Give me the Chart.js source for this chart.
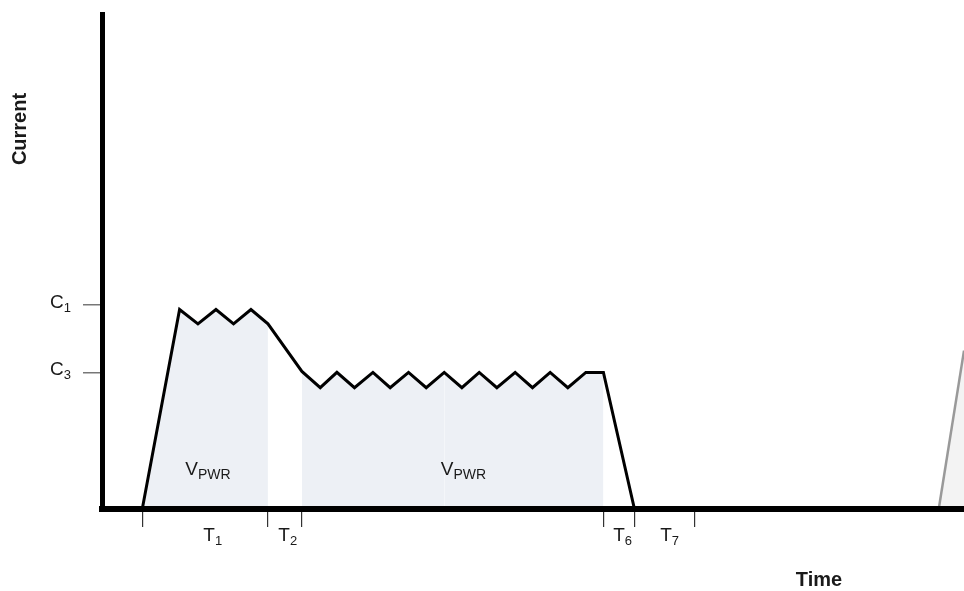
<!DOCTYPE html>
<html>
<head>
<meta charset="utf-8">
<title>Current vs Time</title>
<script src="https://cdn.jsdelivr.net/npm/chart.js@4.4.1/dist/chart.umd.min.js"></script>
<style>
  html, body { margin: 0; padding: 0; background: #fff; }
  #wrap { width: 964px; height: 591px; }
</style>
</head>
<body>
<div id="wrap"><canvas id="chart" width="964" height="591"></canvas></div>
<script>
// Time and current in arbitrary units (axis 0..100 both ways)
const waveTime = [4.67, 9.0, 11.13, 13.22, 15.26, 17.28, 19.25, 23.19,
  25.32, 27.25, 29.29, 31.43, 33.43, 35.56, 37.61, 39.70, 41.75, 43.76,
  45.81, 47.93, 49.94, 51.99, 54.04, 56.13, 58.17, 61.77];
const waveCurrent = [0, 40.3, 37.4, 40.3, 37.4, 40.3, 37.4, 27.8,
  24.5, 27.6, 24.5, 27.6, 24.5, 27.6, 24.5, 27.6, 24.5, 27.6,
  24.5, 27.6, 24.5, 27.6, 24.5, 27.6, 27.6, 0];

// shaded V_PWR phases (time ranges)
const shadeStart = [4.67, 23.19, 39.70];
const shadeEnd   = [19.25, 39.70, 58.17];

// start of the next pulse at the right edge
const nextTime    = [97.07, 100];
const nextCurrent = [0, 32.0];

// level ticks on the current axis
const levelValues = [41.2, 27.6];
const levelLabels = ['C_1', 'C_3'];

// phase markers on the time axis
const markerTime  = [4.67, 19.25, 23.19, 58.17, 61.77, 68.72];
const phaseLabels = ['T_1', 'T_2', 'T_6', 'T_7'];
const phaseTime   = [11.75, 20.45, 59.3, 64.75];

// V_PWR labels inside the shaded areas
const supplyLabels  = ['V_PWR', 'V_PWR'];
const supplyTime    = [9.66, 39.3];
const supplyCurrent = [6.8, 6.8];

const FONT = '"Liberation Sans", Arial, sans-serif';

function pts(xs, ys) {
  return xs.map((x, i) => ({ x: x, y: ys[i] }));
}

const wave = pts(waveTime, waveCurrent);

const shadeSets = shadeStart.map((s, i) => ({
  data: wave.filter(p => p.x >= s && p.x <= shadeEnd[i]),
  fill: 'origin',
  backgroundColor: '#edf0f5',
  borderWidth: 0,
  pointRadius: 0,
  order: 2,
}));

// text with a subscript part, "C_1" -> C + small 1
function drawSub(ctx, label, x, y, size, subSize) {
  const parts = label.split('_');
  ctx.font = size + 'px ' + FONT;
  ctx.fillText(parts[0], x, y);
  const w = ctx.measureText(parts[0]).width;
  ctx.font = subSize + 'px ' + FONT;
  ctx.fillText(parts[1], x + w, y + 4);
}

const labelPlugin = {
  id: 'labels',
  afterDraw(chart) {
    const ctx = chart.ctx;
    const xs = chart.scales.x, ys = chart.scales.y;
    ctx.save();
    ctx.fillStyle = '#1a1a1a';
    ctx.textBaseline = 'alphabetic';
    ctx.textAlign = 'left';

    levelLabels.forEach((l, i) => {
      drawSub(ctx, l, 50, ys.getPixelForValue(levelValues[i]) + 3, 19, 13);
    });
    phaseLabels.forEach((l, i) => {
      drawSub(ctx, l, xs.getPixelForValue(phaseTime[i]), 541, 19, 13);
    });
    supplyLabels.forEach((l, i) => {
      drawSub(ctx, l, xs.getPixelForValue(supplyTime[i]),
        ys.getPixelForValue(supplyCurrent[i]), 19, 14);
    });

    ctx.font = 'bold 20px ' + FONT;
    ctx.textAlign = 'center';
    ctx.fillText('Time', 819, 586);
    ctx.translate(26, 129);
    ctx.rotate(-Math.PI / 2);
    ctx.fillText('Current', 0, 0);
    ctx.restore();
  }
};

new Chart(document.getElementById('chart'), {
  type: 'line',
  data: {
    datasets: [
      {
        data: wave,
        borderColor: '#000',
        borderWidth: 3,
        borderJoinStyle: 'miter',
        pointRadius: 0,
        fill: false,
        tension: 0,
        order: 0,
      },
      {
        data: pts(nextTime, nextCurrent),
        borderColor: '#999',
        borderWidth: 2.5,
        backgroundColor: '#f3f3f3',
        fill: 'origin',
        pointRadius: 0,
        order: 1,
      },
      ...shadeSets,
    ],
  },
  options: {
    responsive: false,
    animation: false,
    layout: { padding: { top: 14, right: 0, left: 0, bottom: 0 } },
    plugins: { legend: { display: false }, tooltip: { enabled: false } },
    scales: {
      x: {
        type: 'linear',
        min: 0, max: 100,
        afterFit(s) { s.height = 82; },
        afterBuildTicks(s) { s.ticks = markerTime.map(v => ({ value: v })); },
        ticks: { display: false },
        grid: { drawOnChartArea: false, drawTicks: true, tickLength: 18,
                color: '#333', lineWidth: 1.2 },
        border: { display: true, color: '#000', width: 6, z: 1 },
      },
      y: {
        type: 'linear',
        min: 0, max: 100,
        afterFit(s) { s.width = 102; },
        afterBuildTicks(s) { s.ticks = levelValues.map(v => ({ value: v })); },
        ticks: { display: false },
        grid: { drawOnChartArea: false, drawTicks: true, tickLength: 19,
                color: '#777', lineWidth: 1.5 },
        border: { display: true, color: '#000', width: 5, z: 1 },
      },
    },
  },
  plugins: [labelPlugin],
});
</script>
</body>
</html>
